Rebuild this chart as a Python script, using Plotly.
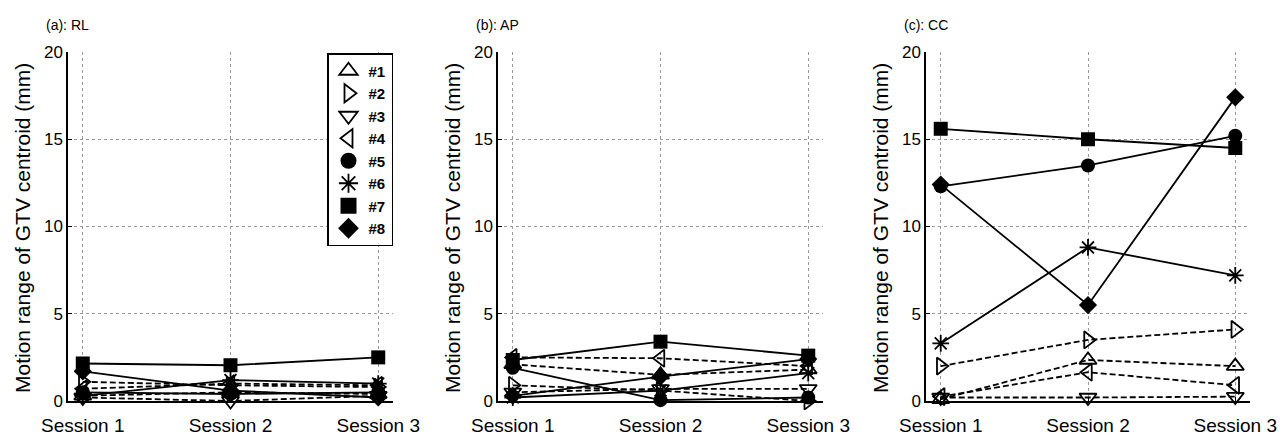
import plotly.graph_objects as go

sessions = ["Session 1", "Session 2", "Session 3"]
x_pos = [1, 2, 3]
patients = ["#1", "#2", "#3", "#4", "#5", "#6", "#7", "#8"]
symbols = ["triangle-up-open", "triangle-right-open", "triangle-down-open", "triangle-left-open",
           "circle", "asterisk-open", "square", "diamond"]
dashes = ["6px,3px", "6px,3px", "6px,3px", "6px,3px", "solid", "solid", "solid", "solid"]

# (a) RL
rl = [
    [0.3, 0.5, 0.4],
    [1.1, 0.9, 0.8],
    [0.2, 0.0, 0.3],
    [0.7, 1.0, 0.9],
    [0.5, 0.4, 0.5],
    [0.3, 1.2, 1.0],
    [2.15, 2.05, 2.5],
    [1.7, 0.6, 0.2],
]
# (b) AP
ap = [
    [2.1, 1.5, 1.8],
    [0.9, 0.6, 0.0],
    [0.5, 0.7, 0.7],
    [2.5, 2.45, 2.0],
    [1.9, 0.05, 0.2],
    [0.2, 0.6, 1.6],
    [2.35, 3.4, 2.6],
    [0.3, 1.4, 2.4],
]
# (c) CC
cc = [
    [0.1, 2.35, 2.0],
    [2.0, 3.5, 4.1],
    [0.2, 0.2, 0.25],
    [0.25, 1.65, 0.9],
    [12.3, 13.5, 15.2],
    [3.3, 8.8, 7.2],
    [15.6, 15.0, 14.5],
    [12.4, 5.5, 17.4],
]
panels = [rl, ap, cc]
panel_titles = ["(a): RL", "(b): AP", "(c): CC"]
y_title = "Motion range of GTV centroid (mm)"
y_ticks = [0, 5, 10, 15, 20]

W, H = 1288, 437
FONT = "Liberation Sans, Arial, sans-serif"
x_domains_px = [(68, 393), (498, 823), (926, 1250)]
y_top_px, y_bot_px = 52, 401

fig = go.Figure()
axnames = [("x", "y"), ("x2", "y2"), ("x3", "y3")]
for p, data in enumerate(panels):
    xa, ya = axnames[p]
    for i, vals in enumerate(data):
        sym = symbols[i]
        is_open = sym.endswith("-open")
        fig.add_trace(go.Scatter(
            x=x_pos, y=vals, xaxis=xa, yaxis=ya, mode="lines+markers",
            name=patients[i], showlegend=False, cliponaxis=False,
            line=dict(color="black", width=1.8, dash=dashes[i]),
            marker=dict(symbol=sym, size=15 if "triangle" in sym else 14,
                        color="black", line=dict(color="black", width=1.8 if is_open else 0)),
        ))

# legend-only marker entries
for i in range(8):
    sym = symbols[i]
    is_open = sym.endswith("-open")
    fig.add_trace(go.Scatter(
        x=[None], y=[None], xaxis="x", yaxis="y", mode="markers", name=patients[i],
        showlegend=True,
        marker=dict(symbol=sym, size=16, color="black",
                    line=dict(color="black", width=1.8 if is_open else 0)),
    ))

layout = dict(
    width=W, height=H, margin=dict(l=0, r=0, t=0, b=0, autoexpand=False),
    paper_bgcolor="white", plot_bgcolor="white",
    font=dict(family=FONT, color="black"),
    legend=dict(x=393 / W, xanchor="right", y=1 - 53 / H, yanchor="top",
                bgcolor="white", bordercolor="black", borderwidth=1.5,
                font=dict(size=15, family=FONT, weight="bold"), itemwidth=30, tracegroupgap=0),
)
annotations = []
for p in range(3):
    suffix = "" if p == 0 else str(p + 1)
    x0, x1 = x_domains_px[p]
    layout["xaxis" + suffix] = dict(
        domain=[x0 / W, x1 / W], range=[0.9, 3.1], tickvals=x_pos, ticktext=sessions,
        showgrid=True, gridcolor="#999999", griddash="dot", gridwidth=1,
        showline=True, linecolor="black", linewidth=1.5, zeroline=False,
        ticks="inside", ticklen=4, tickcolor="black", automargin=False,
        tickfont=dict(size=19, family=FONT), anchor="y" + suffix,
        ticklabelstandoff=6,
    )
    layout["yaxis" + suffix] = dict(
        domain=[1 - y_bot_px / H, 1 - y_top_px / H], range=[0, 20], tickvals=y_ticks,
        showgrid=True, gridcolor="#999999", griddash="dot", gridwidth=1,
        showline=True, linecolor="black", linewidth=1.5, zeroline=False,
        ticks="inside", ticklen=4, tickcolor="black", automargin=False,
        tickfont=dict(size=17, family=FONT), anchor="x" + suffix,
    )
    annotations.append(dict(
        text=panel_titles[p], xref="paper", yref="paper",
        x=(x0 - 24) / W, y=1 - 25 / H, xanchor="left", yanchor="middle",
        showarrow=False, font=dict(size=14, family=FONT),
    ))
    annotations.append(dict(
        text=y_title, xref="paper", yref="paper",
        x=(x0 - 46) / W, y=1 - 228 / H, xanchor="center", yanchor="middle",
        textangle=-90, showarrow=False, font=dict(size=21, family=FONT),
    ))
layout["annotations"] = annotations
fig.update_layout(**layout)
fig.write_html("out.html")
